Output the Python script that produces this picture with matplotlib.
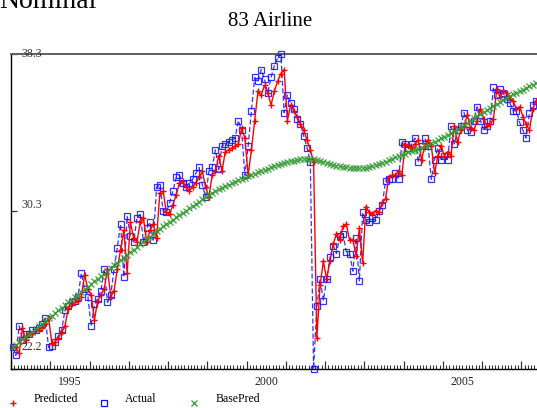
import numpy as np
import matplotlib
matplotlib.use("Agg")
import matplotlib.pyplot as plt
from matplotlib.lines import Line2D
from matplotlib.transforms import blended_transform_factory
from matplotlib.ticker import FixedLocator, NullFormatter

# Monthly series, Jan 1994 .. May 2007
actual = [
    23.3, 22.9, 24.4, 23.7, 24.0, 24.0, 24.2, 24.2, 24.3, 24.5, 24.8, 23.3,
    23.4, 23.6, 23.9, 24.2, 25.2, 25.4, 25.6, 25.7, 25.9, 27.1, 26.3, 25.9,
    24.4, 25.5, 25.8, 26.2, 27.3, 25.6, 26.0, 27.3, 28.4, 29.6, 26.9, 30.0,
    29.0, 28.7, 29.9, 30.1, 28.7, 29.4, 29.7, 28.8, 31.5, 31.6, 30.3, 30.2,
    30.7, 31.3, 32.0, 32.1, 31.7, 31.5, 31.7, 31.9, 32.2, 32.5, 31.6, 31.0,
    32.3, 32.5, 33.4, 32.4, 33.6, 33.7, 33.8, 33.9, 34.0, 34.9, 34.4, 32.1,
    33.6, 35.4, 37.1, 36.9, 37.5, 37.0, 36.3, 37.1, 37.7, 38.1, 38.3, 35.3,
    36.2, 35.8, 35.5, 35.0, 34.7, 34.1, 33.5, 32.8, 22.2, 25.4, 26.8, 25.7,
    26.8, 27.9, 28.5, 28.1, 29.0, 29.1, 28.2, 28.1, 27.2, 28.9, 26.7, 30.2,
    29.8, 29.7, 29.9, 29.8, 30.3, 30.6, 31.8, 31.9, 31.9, 32.2, 31.9, 33.8,
    33.7, 33.5, 33.7, 34.0, 32.8, 33.6, 34.0, 33.6, 31.9, 32.9, 33.5, 32.9,
    33.1, 32.9, 34.6, 33.7, 34.4, 34.6, 35.3, 34.4, 34.3, 34.9, 35.6, 34.9,
    34.4, 34.6, 34.9, 36.6, 36.2, 36.5, 36.3, 36.0, 35.8, 35.4, 35.4, 34.8,
    34.4, 34.0, 35.3, 35.7, 35.9,
]

predicted = [
    23.3, 23.3, 23.0, 24.3, 23.7, 24.0, 24.0, 24.2, 24.2, 24.3, 24.5, 24.8,
    23.5, 23.6, 23.8, 24.1, 24.4, 25.3, 25.5, 25.6, 25.7, 25.9, 27.0, 26.3,
    26.0, 24.7, 25.7, 26.0, 26.3, 27.3, 25.9, 26.2, 27.3, 28.3, 29.3, 27.1,
    29.7, 28.9, 28.7, 29.7, 29.9, 28.7, 29.3, 29.6, 28.9, 31.2, 31.3, 30.2,
    30.1, 30.6, 31.1, 31.7, 31.8, 31.5, 31.3, 31.5, 31.7, 32.0, 32.3, 31.5,
    31.0, 32.1, 32.3, 33.1, 32.3, 33.3, 33.4, 33.5, 33.6, 33.7, 34.5, 34.0,
    32.1, 33.4, 34.9, 36.4, 36.2, 36.7, 36.3, 35.7, 36.4, 36.9, 37.3, 37.5,
    34.9, 35.7, 35.4, 35.1, 34.7, 34.4, 33.9, 33.4, 32.8, 23.8, 26.5, 27.7,
    26.8, 27.7, 28.6, 29.1, 28.8, 29.5, 29.6, 28.8, 28.8, 28.0, 29.4, 27.6,
    30.5, 30.2, 30.1, 30.3, 30.2, 30.7, 30.9, 32.0, 32.1, 32.1, 32.3, 32.1,
    33.7, 33.6, 33.5, 33.7, 33.9, 32.9, 33.6, 33.9, 33.6, 32.2, 33.1, 33.6,
    33.1, 33.3, 33.1, 34.6, 33.8, 34.4, 34.6, 35.2, 34.5, 34.4, 34.9, 35.5,
    35.0, 34.6, 34.7, 35.0, 36.5, 36.1, 36.4, 36.3, 36.0, 35.9, 35.5, 35.6,
    35.1, 34.7, 34.4, 35.5, 35.9,
]

basepred = [
    23.30, 23.44, 23.57, 23.71, 23.84, 23.98, 24.11, 24.25, 24.38, 24.52, 24.65, 24.79,
    24.92, 25.06, 25.19, 25.33, 25.46, 25.60, 25.73, 25.87, 26.00, 26.14, 26.27, 26.41,
    26.54, 26.68, 26.81, 26.95, 27.08, 27.22, 27.35, 27.49, 27.62, 27.76, 27.89, 28.03,
    28.16, 28.30, 28.43, 28.57, 28.70, 28.84, 28.97, 29.11, 29.24, 29.38, 29.50, 29.61,
    29.73, 29.84, 29.96, 30.07, 30.19, 30.30, 30.42, 30.53, 30.65, 30.76, 30.88, 30.99,
    31.10, 31.20, 31.29, 31.38, 31.46, 31.54, 31.62, 31.70, 31.77, 31.84, 31.91, 31.98,
    32.05, 32.12, 32.19, 32.26, 32.32, 32.38, 32.44, 32.50, 32.56, 32.62, 32.67, 32.72,
    32.77, 32.81, 32.85, 32.89, 32.92, 32.94, 32.95, 32.94, 32.92, 32.88, 32.84, 32.79,
    32.74, 32.69, 32.64, 32.60, 32.56, 32.53, 32.50, 32.48, 32.47, 32.46, 32.46, 32.47,
    32.49, 32.52, 32.56, 32.61, 32.67, 32.73, 32.80, 32.87, 32.94, 33.01, 33.08, 33.15,
    33.21, 33.27, 33.33, 33.39, 33.45, 33.51, 33.58, 33.65, 33.73, 33.81, 33.90, 33.99,
    34.08, 34.17, 34.27, 34.37, 34.47, 34.57, 34.68, 34.79, 34.90, 35.01, 35.12, 35.23,
    35.34, 35.45, 35.56, 35.66, 35.76, 35.86, 35.96, 36.05, 36.14, 36.23, 36.32, 36.40,
    36.48, 36.56, 36.64, 36.72, 36.80,
]

start_year = 1994
year_labels = ["1995", "2000", "2005"]
y_tick_labels = ["38.3", "30.3", "22.2"]
title = "83 Airline"
header = "Nominal"
series_names = ["Predicted", "Actual", "BasePred"]

# time axis: mid-month positions in decimal years
t = start_year + (np.arange(len(actual)) + 0.5) / 12.0

plt.rcParams["font.family"] = ["Liberation Serif", "DejaVu Serif"]

W, H = 537, 408
fig = plt.figure(figsize=(W / 100, H / 100), dpi=100)
ax = fig.add_axes([11 / W, (H - 369) / H, (W - 11) / W, (369 - 54) / H])

RED = "#ff0000"
BLUE = "#1010ff"
GREEN = "#2f9a2f"

ax.plot(t, actual, color=BLUE, lw=0.9, ls=(0, (4, 2)), marker="s", ms=4.8,
        mfc="none", mec=BLUE, mew=0.9, alpha=0.85, clip_on=False, zorder=3)
ax.plot(t, predicted, color=RED, lw=1.0, marker="+", ms=5, mew=1.0,
        clip_on=False, zorder=4)
ax.plot(t, basepred, color=GREEN, lw=0.6, ls=":", marker="x", ms=3.9,
        mew=0.9, alpha=0.9, clip_on=False, zorder=5)

ymin, ymax = min(actual), max(actual)
ax.set_ylim(ymin, ymax)
ax.set_xlim(1994.0, 2007.4)

# spines
ax.spines["right"].set_visible(False)
ax.spines["top"].set_color("#606060")
ax.spines["top"].set_linewidth(1.4)
ax.spines["left"].set_color("black")
ax.spines["left"].set_linewidth(1.0)
ax.spines["bottom"].set_color("black")
ax.spines["bottom"].set_linewidth(1.0)

# x ticks: year boundaries (major), months (minor)
years = np.arange(1994, 2008)
ax.xaxis.set_major_locator(FixedLocator(years))
ax.xaxis.set_minor_locator(FixedLocator(start_year + np.arange(0, 13.5 * 12) / 12.0))
ax.xaxis.set_major_formatter(NullFormatter())
ax.tick_params(axis="x", which="major", direction="in", length=5.5, width=0.9, color="#333333")
ax.tick_params(axis="x", which="minor", direction="in", length=2.8, width=0.8, color="#333333")

# y ticks: min, mid, max
ax.yaxis.set_major_locator(FixedLocator([ymin, (ymin + ymax) / 2, ymax]))
ax.yaxis.set_major_formatter(NullFormatter())
ax.tick_params(axis="y", which="major", direction="in", length=4, width=0.9, color="#333333")

# year labels centred on each labelled year
xb = blended_transform_factory(ax.transData, ax.transAxes)
for lab in year_labels:
    ax.text(int(lab) + 0.5, -0.040, lab, transform=xb, ha="center", va="center",
            fontsize=8.5, color="#222222")

# y labels drawn inside the frame
yb = blended_transform_factory(ax.transAxes, ax.transData)
for lab, yv in zip(y_tick_labels, [ymax, 30.58, 23.34]):
    ax.text(0.0203, yv, lab, transform=yb, ha="left", va="center",
            fontsize=8.5, color="#333333", zorder=6)

fig.text(270.5 / W, (H - 21.7) / H, title, ha="center", va="center", fontsize=15)
fig.text(-0.002, (H - 7.5) / H, header, ha="left", va="baseline", fontsize=20)

# legend row
legend_items = [
    (13, 34, dict(marker="+", color=RED, ms=5, mew=1.0)),
    (103.5, 125, dict(marker="s", color=BLUE, ms=4.8, mfc="none", mew=0.9)),
    (194, 216, dict(marker="x", color=GREEN, ms=3.9, mew=0.9)),
]
for name, (mx, tx, style) in zip(series_names, legend_items):
    fig.add_artist(Line2D([mx / W], [(H - 402.5) / H], transform=fig.transFigure,
                          ls="none", **style))
    fig.text(tx / W, (H - 399) / H, name, ha="left", va="center", fontsize=8.5)

fig.savefig("out.png", dpi=100)
